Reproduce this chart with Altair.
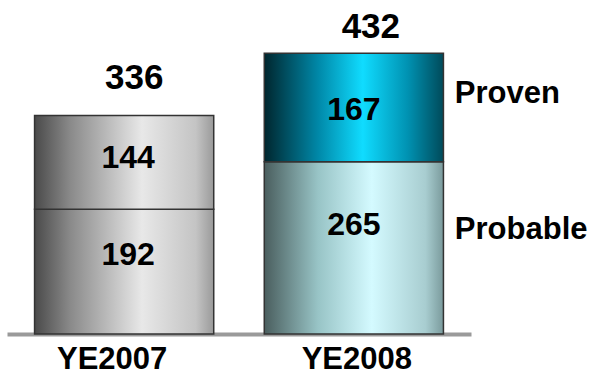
import altair as alt
import pandas as pd

years = ["YE2007", "YE2008"]
probable = [192, 265]
proven = [144, 167]
series = ["Probable", "Proven"]

rows = []
for i, yr in enumerate(years):
    start = 0
    for s, vals in zip(series, [probable, proven]):
        v = vals[i]
        rows.append({"year": yr, "series": s, "value": v, "start": start,
                     "end": start + v, "mid": start + v / 2, "total": probable[i] + proven[i]})
        start += v
df = pd.DataFrame(rows)

FONT = "Liberation Sans"

def grad(stops):
    return alt.Gradient(gradient="linear", x1=0, x2=1, y1=0, y2=0,
                        stops=[alt.GradientStop(color=c, offset=o) for o, c in stops])

grey = grad([(0, "#4a4a4a"), (0.2, "#8a8a8a"), (0.6, "#e8e8e8"), (0.9, "#c4c4c4"), (1, "#9a9a9a")])
teal = grad([(0, "#00262e"), (0.3, "#0088a8"), (0.55, "#10dcff"), (0.8, "#0092b2"), (1, "#004a5a")])
cyan = grad([(0, "#4a5e5e"), (0.3, "#98c4c6"), (0.6, "#d4faff"), (0.9, "#a8cdd0"), (1, "#7a9a9c")])

xenc = alt.X("year:N", sort=years,
             scale=alt.Scale(domain=years, paddingInner=0.22, paddingOuter=0.12),
             axis=alt.Axis(title=None, ticks=False, tickSize=0, domainColor="#9a9a9a", domainWidth=4,
                           labelFont=FONT, labelFontSize=31, labelFontWeight="bold", labelColor="#000",
                           labelAngle=0, labelBaseline="alphabetic", labelPadding=34,
                           labelOffset={"condition": {"test": "datum.value === 'YE2007'", "value": -12}, "value": 3}))
yscale = alt.Scale(domain=[0, 500])

base = alt.Chart(df)

def bars(yr, s, fill):
    return base.transform_filter(
        (alt.datum.year == yr) & (alt.datum.series == s)
    ).mark_bar(fill=fill, stroke="#333333", strokeWidth=1.5).encode(
        x=xenc,
        y=alt.Y("start:Q", scale=yscale, axis=None),
        y2="end:Q",
    )

layers = [
    bars("YE2007", "Probable", grey),
    bars("YE2007", "Proven", grey),
    bars("YE2008", "Probable", cyan),
    bars("YE2008", "Proven", teal),
]

def seg_text(yr, s, dy, dx):
    return base.transform_filter(
        (alt.datum.year == yr) & (alt.datum.series == s)
    ).mark_text(font=FONT, fontSize=32, fontWeight="bold", color="#000",
                baseline="alphabetic", dy=dy, dx=dx).encode(
        x=xenc, y=alt.Y("end:Q", scale=yscale), text="value:Q")

layers += [
    seg_text("YE2007", "Proven", 52, 4),
    seg_text("YE2007", "Probable", 56, 4),
    seg_text("YE2008", "Proven", 67, 0),
    seg_text("YE2008", "Probable", 73, 0),
]

def total_text(yr, dy, dx):
    return base.transform_filter(
        (alt.datum.year == yr) & (alt.datum.series == "Proven")
    ).mark_text(font=FONT, fontSize=35, fontWeight="bold", color="#000",
                baseline="alphabetic", dy=dy, dx=dx).encode(
        x=xenc, y=alt.Y("total:Q", scale=yscale), text="total:Q")

layers += [total_text("YE2007", -27, 10), total_text("YE2008", -15, 17)]

def legend_text(s, dy):
    return base.transform_filter(
        (alt.datum.year == "YE2008") & (alt.datum.series == s)
    ).mark_text(font=FONT, fontSize=31, fontWeight="bold", color="#000",
                baseline="alphabetic", align="left", dx=101, dy=dy).encode(
        x=xenc, y=alt.Y("mid:Q", scale=yscale), text="series:N")

layers += [legend_text("Proven", -4), legend_text("Probable", -9)]

chart = alt.layer(*layers).properties(
    width=464, height=325,
    background="white",
    autosize=alt.AutoSizeParams(type="none"),
    padding={"left": 7, "right": 123, "top": 9, "bottom": 45},
).configure_view(strokeWidth=0, stroke=None)

chart.save("out.html", embed_options={"renderer": "svg", "actions": False})
